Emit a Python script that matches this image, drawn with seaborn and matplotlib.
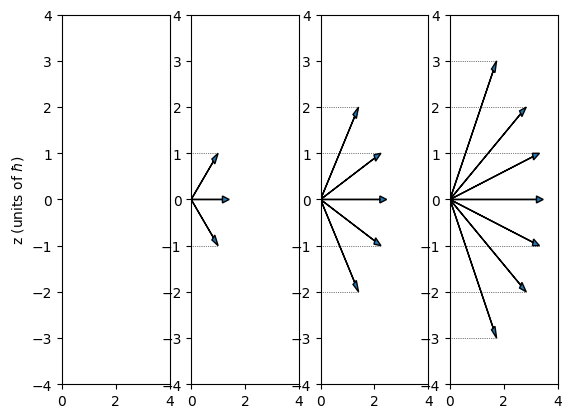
import seaborn as sns
import matplotlib.pyplot as plt

# orbital quantum numbers shown, one panel each
l_values = [0, 1, 2, 3]

# z components (m) and horizontal components of each vector, per panel
m_values = [
    [0],
    [1, 0, -1],
    [2, 1, 0, -1, -2],
    [3, 2, 1, 0, -1, -2, -3],
]
x_values = [
    [0.0],
    [1.0, 1.41, 1.0],
    [1.41, 2.24, 2.45, 2.24, 1.41],
    [1.73, 2.83, 3.32, 3.46, 3.32, 2.83, 1.73],
]

fig, axes = plt.subplots(1, 4, figsize=(6.4, 4.8))

for ax, l, ms, xs in zip(axes, l_values, m_values, x_values):
    for m, x in zip(ms, xs):
        if l == 0:
            continue
        if m != 0:
            sns.lineplot(x=[0, x], y=[m, m], ax=ax, color="k",
                         linestyle=":", linewidth=0.5)
        ax.arrow(0, 0, x, m, head_width=0.15, head_length=0.25,
                 length_includes_head=True, fc="C0", ec="k", lw=1)
    ax.set_xlim(0, 4)
    ax.set_ylim(-4, 4)
    ax.set_xticks([0, 2, 4])
    ax.set_yticks(range(-4, 5))

axes[0].set_ylabel(r"z (units of $\hbar$)")

plt.savefig("out.png", dpi=100, bbox_inches="tight")
